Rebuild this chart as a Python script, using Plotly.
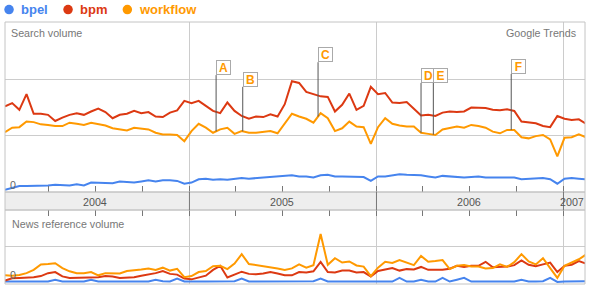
import numpy as np
import pandas as pd
import plotly.graph_objects as go

W, H = 591, 290
FONT = "Liberation Sans, Arial, sans-serif"

terms = ["bpel", "bpm", "workflow"]
colors = ["#4684ee", "#dc3912", "#ff9900"]

# two-week sampling of the weekly series
dates = pd.date_range("2004-01-07", periods=82, freq="14D")

search_bpel = [0.02, 0.05, 0.09, 0.09, 0.09, 0.09, 0.10, 0.11, 0.11, 0.10,
               0.12, 0.10, 0.15, 0.15, 0.14, 0.14, 0.17, 0.16, 0.15, 0.17,
               0.19, 0.17, 0.19, 0.19, 0.18, 0.13, 0.15, 0.21, 0.22, 0.20,
               0.21, 0.20, 0.21, 0.23, 0.22, 0.23, 0.23, 0.24, 0.26, 0.27,
               0.28, 0.26, 0.26, 0.24, 0.28, 0.29, 0.26, 0.26, 0.26, 0.26,
               0.25, 0.18, 0.26, 0.26, 0.28, 0.30, 0.29, 0.29, 0.28, 0.26,
               0.24, 0.27, 0.26, 0.25, 0.24, 0.25, 0.26, 0.24, 0.24, 0.24,
               0.24, 0.24, 0.21, 0.22, 0.23, 0.23, 0.21, 0.13, 0.22, 0.23,
               0.22, 0.21]
search_bpm = [1.51, 1.57, 1.45, 1.73, 1.38, 1.38, 1.36, 1.25, 1.31, 1.36,
              1.39, 1.36, 1.42, 1.47, 1.41, 1.30, 1.36, 1.38, 1.43, 1.39,
              1.41, 1.33, 1.32, 1.40, 1.44, 1.61, 1.57, 1.61, 1.52, 1.43,
              1.39, 1.58, 1.43, 1.34, 1.29, 1.33, 1.32, 1.37, 1.33, 1.55,
              1.96, 1.93, 1.77, 1.73, 1.69, 1.68, 1.42, 1.54, 1.74, 1.45,
              1.52, 1.86, 1.73, 1.75, 1.58, 1.57, 1.59, 1.47, 1.35, 1.36,
              1.34, 1.40, 1.42, 1.41, 1.42, 1.49, 1.48, 1.48, 1.45, 1.44,
              1.46, 1.43, 1.24, 1.22, 1.21, 1.16, 1.14, 1.34, 1.29, 1.27,
              1.28, 1.20]
search_workflow = [1.05, 1.13, 1.14, 1.24, 1.23, 1.19, 1.18, 1.16, 1.16, 1.22,
                   1.20, 1.18, 1.22, 1.19, 1.17, 1.12, 1.10, 1.08, 1.13, 1.11,
                   1.10, 1.04, 1.01, 1.01, 1.00, 0.89, 1.07, 1.20, 1.13, 1.04,
                   1.10, 1.13, 1.02, 1.07, 1.04, 1.04, 1.05, 1.07, 1.03, 1.21,
                   1.38, 1.33, 1.29, 1.22, 1.39, 1.30, 1.07, 1.12, 1.24, 1.15,
                   1.14, 0.84, 1.14, 1.30, 1.20, 1.17, 1.15, 1.15, 1.04, 1.02,
                   1.00, 1.10, 1.13, 1.15, 1.13, 1.18, 1.16, 1.13, 1.06, 1.03,
                   1.09, 1.09, 0.96, 0.94, 0.98, 1.00, 0.92, 0.62, 0.95, 0.96,
                   1.01, 0.96]

news_bpel = [0.04, 0.04, 0.04, 0.04, 0.04, 0.05, 0.04, 0.09, 0.04, 0.04,
             0.04, 0.04, 0.09, 0.04, 0.04, 0.04, 0.04, 0.04, 0.04, 0.05,
             0.04, 0.09, 0.05, 0.04, 0.12, 0.04, 0.03, 0.04, 0.04, 0.04,
             0.05, 0.04, 0.05, 0.12, 0.04, 0.04, 0.04, 0.04, 0.04, 0.05,
             0.04, 0.04, 0.04, 0.05, 0.12, 0.04, 0.04, 0.05, 0.04, 0.04,
             0.04, 0.03, 0.04, 0.05, 0.04, 0.14, 0.04, 0.04, 0.09, 0.04,
             0.04, 0.14, 0.04, 0.09, 0.14, 0.04, 0.04, 0.05, 0.04, 0.04,
             0.04, 0.04, 0.09, 0.04, 0.04, 0.05, 0.14, 0.03, 0.04, 0.04,
             0.04, 0.05]
news_bpm = [0.07, 0.13, 0.14, 0.14, 0.16, 0.19, 0.27, 0.30, 0.18, 0.14,
            0.14, 0.15, 0.15, 0.16, 0.19, 0.18, 0.14, 0.15, 0.16, 0.20,
            0.23, 0.27, 0.33, 0.25, 0.23, 0.12, 0.10, 0.16, 0.20, 0.36,
            0.47, 0.15, 0.24, 0.31, 0.25, 0.24, 0.26, 0.30, 0.26, 0.21,
            0.21, 0.30, 0.29, 0.32, 0.58, 0.30, 0.29, 0.34, 0.34, 0.29,
            0.30, 0.18, 0.33, 0.36, 0.41, 0.34, 0.38, 0.37, 0.44, 0.36,
            0.36, 0.36, 0.39, 0.47, 0.44, 0.47, 0.47, 0.58, 0.43, 0.43,
            0.45, 0.49, 0.62, 0.50, 0.46, 0.51, 0.56, 0.30, 0.47, 0.50,
            0.60, 0.53]
news_workflow = [0.21, 0.20, 0.22, 0.27, 0.36, 0.51, 0.52, 0.54, 0.41, 0.32,
                 0.27, 0.27, 0.30, 0.21, 0.27, 0.27, 0.26, 0.33, 0.34, 0.37,
                 0.40, 0.36, 0.42, 0.34, 0.39, 0.16, 0.19, 0.30, 0.33, 0.46,
                 0.47, 0.38, 0.53, 0.79, 0.52, 0.49, 0.48, 0.44, 0.40, 0.36,
                 0.40, 0.51, 0.42, 0.49, 1.34, 0.50, 0.68, 0.56, 0.59, 0.48,
                 0.45, 0.19, 0.42, 0.58, 0.55, 0.63, 0.57, 0.49, 0.74, 0.58,
                 0.60, 0.63, 0.38, 0.47, 0.49, 0.45, 0.45, 0.40, 0.41, 0.51,
                 0.44, 0.57, 0.79, 0.59, 0.51, 0.68, 0.41, 0.14, 0.47, 0.57,
                 0.65, 0.78]

year_labels = ["2004", "2005", "2006", "2007"]
year_label_dates = ["2004-07-01", "2005-07-01", "2006-07-01", "2007-01-18"]
year_lines = ["2005-01-01", "2006-01-01", "2007-01-01"]

flag_letters = ["A", "B", "C", "D", "E", "F"]
flag_dates = ["2005-02-22", "2005-04-15", "2005-09-09", "2006-03-29", "2006-04-22", "2006-09-21"]
flag_box_level = [2.07, 1.86, 2.30, 1.93, 1.93, 2.09]

x_range = ["2004-01-07", "2007-02-12"]


def px(x):
    return x / W


def py(y):
    return 1 - y / H


fig = go.Figure()

search = [search_bpel, search_bpm, search_workflow]
news = [news_bpel, news_bpm, news_workflow]
for vals, c in zip(search, colors):
    fig.add_trace(go.Scatter(x=dates, y=vals, mode="lines", line=dict(color=c, width=2),
                             xaxis="x", yaxis="y", showlegend=False, hoverinfo="skip"))
for vals, c in zip(news, colors):
    fig.add_trace(go.Scatter(x=dates, y=vals, mode="lines", line=dict(color=c, width=2),
                             xaxis="x2", yaxis="y2", showlegend=False, hoverinfo="skip"))

grid = "#cccccc"
tickc = "#777777"
xdom = [px(5), px(585)]
common_x = dict(type="date", range=x_range, domain=xdom, tickmode="array", tickvals=year_lines,
                showticklabels=False, showgrid=True, gridcolor=grid, gridwidth=1,
                ticks="inside", ticklen=6, tickcolor=tickc, tickwidth=1,
                minor=dict(dtick="M3", tick0="2004-01-01", ticks="inside", ticklen=6,
                           tickcolor=tickc, tickwidth=1, showgrid=False),
                zeroline=False, showline=False, fixedrange=True)

fig.update_layout(
    width=W, height=H,
    margin=dict(l=0, r=0, t=0, b=0),
    paper_bgcolor="white", plot_bgcolor="white",
    font=dict(family=FONT, color="#666666", size=11),
    xaxis=dict(anchor="y", **common_x),
    xaxis2=dict(anchor="y2", side="top", **common_x),
    yaxis=dict(domain=[py(192), py(22)], range=[-1 / 56, 3 + 1 / 56], tickmode="array",
               tickvals=[1, 2], showticklabels=False, showgrid=True, gridcolor=grid,
               zeroline=False, showline=False, fixedrange=True),
    yaxis2=dict(domain=[py(283.5), py(210)], range=[-0.5 / 36.5, 2], tickmode="array",
                tickvals=[1], showticklabels=False, showgrid=True, gridcolor=grid,
                zeroline=False, showline=False, fixedrange=True),
)

border = "#c4c4c4"
shapes = [
    dict(type="rect", xref="paper", yref="paper", x0=px(5), x1=px(585), y0=py(192), y1=py(22),
         line=dict(color=border, width=1)),
    dict(type="rect", xref="paper", yref="paper", x0=px(5), x1=px(585), y0=py(210), y1=py(192),
         fillcolor="#eeeeee", line=dict(color=border, width=1), layer="below"),
    dict(type="rect", xref="paper", yref="paper", x0=px(5), x1=px(585), y0=py(284), y1=py(210),
         line=dict(color=border, width=1)),
]
for d in year_lines:
    shapes.append(dict(type="line", xref="x", yref="paper", x0=d, x1=d, y0=py(192), y1=py(210),
                       line=dict(color="#777777", width=1)))

# legend circles
legend_circle_x = [4.3, 63.3, 122.6]
legend_text_x = [19.0, 78.0, 137.0]
for cx, c in zip(legend_circle_x, colors):
    shapes.append(dict(type="circle", xref="paper", yref="paper", x0=px(cx), x1=px(cx + 9.5),
                       y0=py(14.3), y1=py(4.8), fillcolor=c, line=dict(color=c, width=0)))
fig.update_layout(shapes=shapes)

ann = []
for tx, t, c in zip(legend_text_x, terms, colors):
    ann.append(dict(x=px(tx), y=py(10), xref="paper", yref="paper", text="<b>%s</b>" % t,
                    showarrow=False, xanchor="left", yanchor="middle",
                    font=dict(family=FONT, size=13, color=c)))

ann.append(dict(x=px(9), y=py(33), xref="paper", yref="paper", text="Search volume",
                showarrow=False, xanchor="left", yanchor="middle",
                font=dict(family=FONT, size=10.7, color="#777777")))
ann.append(dict(x=px(578), y=py(33), xref="paper", yref="paper", text="Google Trends",
                showarrow=False, xanchor="right", yanchor="middle",
                font=dict(family=FONT, size=10.7, color="#777777")))
ann.append(dict(x=px(10), y=py(224), xref="paper", yref="paper", text="News reference volume",
                showarrow=False, xanchor="left", yanchor="middle",
                font=dict(family=FONT, size=10.7, color="#777777")))
ann.append(dict(x=px(12.5), y=py(185), xref="paper", yref="paper", text="0",
                showarrow=False, xanchor="center", yanchor="middle",
                font=dict(family=FONT, size=10.7, color="#666666")))
ann.append(dict(x=px(12.5), y=py(275), xref="paper", yref="paper", text="0",
                showarrow=False, xanchor="center", yanchor="middle",
                font=dict(family=FONT, size=10.7, color="#666666")))

for lab, d in zip(year_labels, year_label_dates):
    ann.append(dict(x=d, y=py(201.5), xref="x", yref="paper", text=lab, showarrow=False,
                    xanchor="center", yanchor="middle",
                    font=dict(family=FONT, size=10.7, color="#555555")))

# event flags attached to the workflow line
date_num = dates.values.astype("datetime64[D]").astype(float)
for letter, d, lvl in zip(flag_letters, flag_dates, flag_box_level):
    dn = np.datetime64(d, "D").astype(float)
    yv = float(np.interp(dn, date_num, search_workflow))
    ann.append(dict(x=d, y=yv, xref="x", yref="y", ax=0, ay=lvl, axref="pixel", ayref="y",
                    showarrow=True, arrowhead=0, arrowwidth=1, arrowcolor="#555555",
                    text="<b>%s</b>" % letter, xanchor="left", yanchor="bottom",
                    bgcolor="white", bordercolor="#aaaaaa", borderwidth=1, borderpad=1,
                    width=11, height=11,
                    font=dict(family=FONT, size=12, color="#ff9900")))

fig.update_layout(annotations=ann)
fig.write_html("out.html")
